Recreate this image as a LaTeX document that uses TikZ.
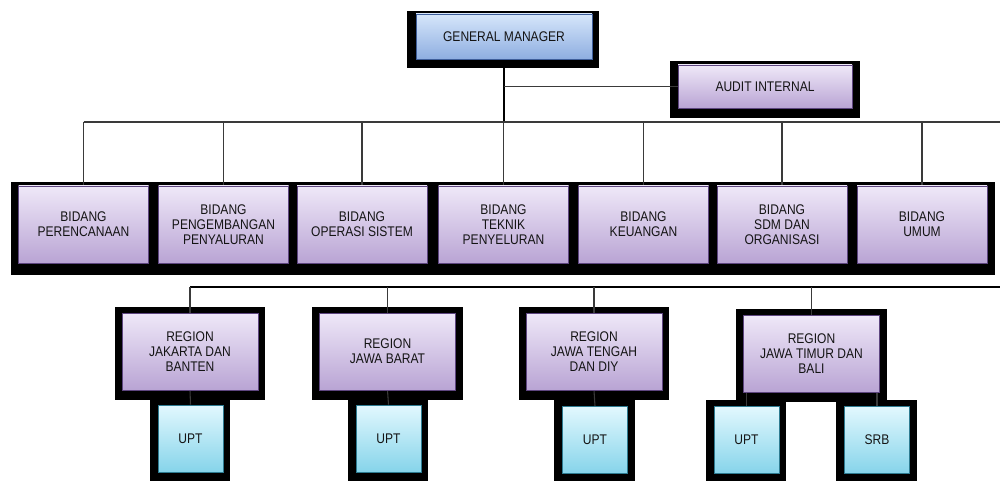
\documentclass[tikz,border=0pt]{standalone}
\usepackage{fontspec}
\newfontfamily\cf[FakeStretch=0.86]{Liberation Sans}
\usetikzlibrary{backgrounds,calc}
\definecolor{pTop}{HTML}{EFE8F8}
\definecolor{pBot}{HTML}{B9A4D4}
\definecolor{pEdge}{HTML}{5E4680}
\definecolor{bTop}{HTML}{D6E6FB}
\definecolor{bBot}{HTML}{8EAEE0}
\definecolor{bEdge}{HTML}{3E5E9A}
\definecolor{cTop}{HTML}{E2F8FE}
\definecolor{cBot}{HTML}{86D4EA}
\definecolor{cEdge}{HTML}{2E7C92}
\definecolor{lineGray}{HTML}{3A3A3A}
\begin{document}
\begin{tikzpicture}[x=0.75pt,y=-0.75pt,
  boxbase/.style={draw, line width=0.7pt, inner sep=0pt, align=center,
    text=black!92, font=\cf\fontsize{10.5}{11.25}\selectfont},
  pbox/.style={boxbase, draw=pEdge, top color=pTop, bottom color=pBot},
  bbox/.style={boxbase, draw=bEdge, top color=bTop, bottom color=bBot},
  cbox/.style={boxbase, draw=cEdge, top color=cTop, bottom color=cBot},
  bid/.style={pbox, minimum width=130*0.75pt, minimum height=77*0.75pt},
  reg/.style={pbox, minimum width=136*0.75pt, minimum height=77*0.75pt},
  upt/.style={cbox, minimum width=65*0.75pt, minimum height=67*0.75pt},
  frame/.style={fill=black},
  thinline/.style={draw=lineGray, line width=0.8pt},
  thickline/.style={draw=black, line width=1.6pt}]
\useasboundingbox (0,0) rectangle (1000,481);

% top level
\node[bbox, minimum width=176*0.75pt, minimum height=45*0.75pt] (gm) at (504,36.5) {GENERAL MANAGER};
\node[pbox, minimum width=174*0.75pt, minimum height=43*0.75pt] (audit) at (765,86.5) {AUDIT INTERNAL};

% bidang row
\node[bid] (b1) at (83.5,224.5) {BIDANG\\PERENCANAAN};
\node[bid] (b2) at (223.5,224.5) {BIDANG\\PENGEMBANGAN\\PENYALURAN};
\node[bid] (b3) at (362,224.5) {BIDANG\\OPERASI SISTEM};
\node[bid] (b4) at (503.5,224.5) {BIDANG\\TEKNIK\\PENYELURAN};
\node[bid] (b5) at (643.5,224.5) {BIDANG\\KEUANGAN};
\node[bid] (b6) at (782,224.5) {BIDANG\\SDM DAN\\ORGANISASI};
\node[bid] (b7) at (922,224.5) {BIDANG\\UMUM};

% regions
\node[reg] (r1) at (190,351.5) {REGION\\JAKARTA DAN\\BANTEN};
\node[reg] (r2) at (387.5,351.5) {REGION\\JAWA BARAT};
\node[reg] (r3) at (594,351.5) {REGION\\JAWA TENGAH\\DAN DIY};
\node[reg] (r4) at (811.5,353.5) {REGION\\JAWA TIMUR DAN\\BALI};

% units
\node[upt] (u1) at (190.5,438.5) {UPT};
\node[upt] (u2) at (388.5,438.5) {UPT};
\node[upt] (u3) at (595,440) {UPT};
\node[upt] (u4) at (746.5,440) {UPT};
\node[upt] (srb) at (877,440) {SRB};

\coordinate (h1r) at (1000,122);
\coordinate (h2r) at (1000,287);

\begin{scope}[on background layer]
  \fill[white] (0,0) rectangle (1000,481);
  % black frames
  \fill[frame] ($(gm.north west)+(-9,-3)$) rectangle ($(gm.south east)+(7,9)$);
  \fill[frame] ($(audit.north west)+(-8,-4)$) rectangle ($(audit.south east)+(8,10)$);
  \fill[frame] ($(b1.north west)+(-7,-4)$) rectangle ($(b7.south east)+(8,12)$);
  \foreach \n in {r1,r2,r3,r4}{
    \fill[frame] ($(\n.north west)+(-7,-6)$) rectangle ($(\n.south east)+(7,10)$);
  }
  \foreach \n in {u1,u2,u3,u4,srb}{
    \fill[frame] ($(\n.north west)+(-8,-6)$) rectangle ($(\n.south east)+(7,12)$);
  }
  % connectors
  \draw[thickline, line width=1.4pt] (gm.south) -- (gm.south |- h1r);
  \draw[thinline] (gm.south |- audit.west) -- (audit.west);
  \draw[thinline] (b1.north |- h1r) -- (h1r);
  \foreach \n in {b1,b2,b3,b4,b5,b6,b7}{
    \draw[thinline] (\n.north |- h1r) -- (\n.north);
  }
  \draw[thickline] (r1.north |- h2r) -- (h2r);
  \foreach \n in {r1,r2,r3,r4}{
    \draw[thinline] (\n.north |- h2r) -- (\n.north);
  }
  \draw[thinline] (r1.south) -- (u1.north);
  \draw[thinline] (r2.south) -- (u2.north);
  \draw[thinline] (r3.south) -- (u3.north);
  \draw[thinline] (u4.north |- r4.south) -- (u4.north);
  \draw[thinline] (srb.north |- r4.south) -- (srb.north);
\end{scope}
\end{tikzpicture}
\end{document}
